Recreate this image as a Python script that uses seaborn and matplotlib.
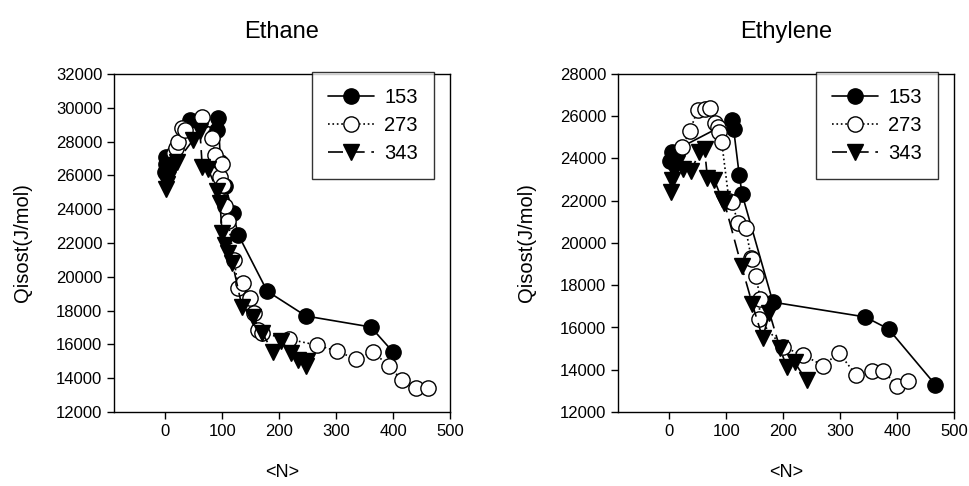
import matplotlib
matplotlib.use("Agg")
import matplotlib.pyplot as plt
import seaborn as sns
import pandas as pd

sns.set_style("ticks")
plt.rcParams['font.family'] = ['Liberation Sans', 'DejaVu Sans']
plt.rcParams['text.color'] = 'black'
plt.rcParams['axes.labelcolor'] = 'black'
plt.rcParams['xtick.color'] = 'black'
plt.rcParams['ytick.color'] = 'black'

# ---------------- Ethane ----------------
ethane_153_n = [0, 1, 2, 44, 90, 93, 97, 105, 119, 128, 179, 247, 361, 400]
ethane_153_q = [26200, 26700, 27100, 29300, 28700, 29400, 26800, 25400, 23800, 22500, 19150, 17680, 17030, 15550]

ethane_273_n = [15, 19, 23, 30, 35, 65, 82, 88, 96, 100, 102, 105, 110, 121, 128, 137, 149, 156, 163, 170,
                218, 266, 302, 335, 365, 393, 415, 440, 462]
ethane_273_q = [27300, 27600, 28000, 28800, 28700, 29450, 28200, 27200, 25900, 26700, 25430, 24200, 23300, 21000,
                19330, 19640, 18750, 17860, 16850, 16670, 16300, 15960, 15600, 15120, 15550, 14720, 13900, 13420, 13420]

ethane_343_n = [2, 3, 4, 5, 8, 12, 16, 20, 49, 61, 65, 75, 91, 96, 100, 105, 111, 118, 135, 154, 170, 189,
                204, 220, 233, 247, 249]
ethane_343_q = [25200, 25500, 25800, 26000, 26200, 26400, 26600, 26800, 28100, 28600, 26500, 26400, 25100, 24350,
                22600, 21900, 21400, 20800, 18200, 17600, 16700, 15550, 16200, 15500, 15100, 14700, 15000]

# ---------------- Ethylene ----------------
ethylene_153_n = [2, 4, 111, 113, 123, 128, 182, 344, 385, 467]
ethylene_153_q = [23900, 24300, 25800, 25400, 23200, 22300, 17200, 16500, 15930, 13300]

ethylene_273_n = [23, 36, 50, 62, 72, 80, 85, 88, 92, 105, 111, 120, 134, 144, 146, 152, 160, 157, 199, 235,
                  270, 298, 328, 356, 376, 400, 420]
ethylene_273_q = [24540, 25300, 26300, 26350, 26400, 25700, 25500, 25250, 24800, 22000, 21950, 20950, 20700,
                  19300, 19230, 18440, 17350, 16400, 15080, 14700, 14200, 14800, 13750, 13950, 13950, 13230, 13470]

ethylene_343_n = [3, 5, 8, 14, 25, 38, 53, 62, 67, 79, 92, 97, 127, 146, 164, 176, 194, 206, 220, 241]
ethylene_343_q = [22400, 23000, 23400, 23800, 23500, 23400, 24300, 24450, 23100, 23000, 22100, 21900, 18900,
                  17100, 15500, 16700, 15050, 14150, 14350, 13500]

temps = ["153", "273", "343"]
styles = {
    "153": dict(marker="o", markerfacecolor="black", linestyle="-"),
    "273": dict(marker="o", markerfacecolor="white", linestyle=":"),
    "343": dict(marker="v", markerfacecolor="black", linestyle=(0, (9, 4))),
}
msize = {"153": 11, "273": 11, "343": 12}

panels = [
    ("Ethane", [(ethane_153_n, ethane_153_q), (ethane_273_n, ethane_273_q), (ethane_343_n, ethane_343_q)],
     (12000, 32000), list(range(12000, 32001, 2000))),
    ("Ethylene", [(ethylene_153_n, ethylene_153_q), (ethylene_273_n, ethylene_273_q), (ethylene_343_n, ethylene_343_q)],
     (12000, 28000), list(range(12000, 28001, 2000))),
]

fig = plt.figure(figsize=(9.7, 4.86), dpi=100)
lefts = [114 / 970, 618 / 970]
for (title, series, ylim, yticks), left in zip(panels, lefts):
    ax = fig.add_axes([left, 74 / 486, 336 / 970, 338 / 486])
    for t, (n, q) in zip(temps, series):
        df = pd.DataFrame({"N": n, "Q": q})
        sns.lineplot(data=df, x="N", y="Q", ax=ax, sort=False, estimator=None,
                     color="black", markeredgecolor="black", markeredgewidth=1.0,
                     markersize=msize[t], linewidth=1.2, label=t, **styles[t])
    ax.set_xlim(-90, 500)
    ax.set_ylim(*ylim)
    ax.set_xticks([0, 100, 200, 300, 400, 500])
    ax.set_yticks(yticks)
    ax.tick_params(direction="out", length=5, width=1, labelsize=12, colors="black")
    for s in ax.spines.values():
        s.set_linewidth(1.0)
        s.set_color("black")
    ax.set_title(title, fontsize=17, pad=26)
    ax.set_xlabel("<N>", fontsize=13, labelpad=18)
    ax.set_ylabel("Qisost(J/mol)", fontsize=14.5, labelpad=17)
    leg = ax.legend(loc="upper right", bbox_to_anchor=(0.952, 1.006), fontsize=14.5,
                    handlelength=2.3, frameon=True, fancybox=False,
                    borderpad=0.8, labelspacing=0.45, handletextpad=0.5, borderaxespad=0.0,
                    edgecolor="black")
    leg.get_frame().set_linewidth(1.0)

fig.savefig("out.png", dpi=100)
